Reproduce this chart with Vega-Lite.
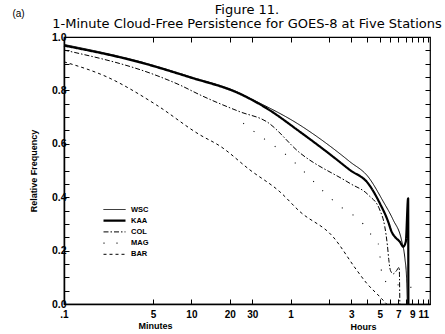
{
  "$schema": "https://vega.github.io/schema/vega-lite/v6.json",
  "width": 366,
  "height": 267,
  "autosize": {"type": "none"},
  "padding": {"left": 64, "top": 37, "right": 15, "bottom": 30},
  "background": "white",
  "config": {
    "view": {"stroke": "black", "strokeWidth": 1.2},
    "font": "Liberation Sans",
    "axis": {"grid": false, "labelColor": "black", "titleColor": "black", "tickColor": "black", "domainColor": "black", "labelFlush": false, "labelOverlap": false}
  },
  "title": {
    "text": ["Figure 11.", "1-Minute Cloud-Free Persistence for GOES-8 at Five Stations"],
    "fontSize": 13,
    "fontWeight": "normal",
    "font": "DejaVu Sans",
    "anchor": "middle",
    "frame": "group",
    "offset": -22.5,
    "lineHeight": 13.5,
    "color": "black"
  },
  "data": {
    "values": [
      {"station": "WSC", "minutes": 1, "freq": 0.972},
      {"station": "WSC", "minutes": 3.95, "freq": 0.908},
      {"station": "WSC", "minutes": 9.73, "freq": 0.852},
      {"station": "WSC", "minutes": 24.0, "freq": 0.79},
      {"station": "WSC", "minutes": 28.8, "freq": 0.771},
      {"station": "WSC", "minutes": 71.0, "freq": 0.67},
      {"station": "WSC", "minutes": 129, "freq": 0.583},
      {"station": "WSC", "minutes": 175, "freq": 0.533},
      {"station": "WSC", "minutes": 245, "freq": 0.475},
      {"station": "WSC", "minutes": 319, "freq": 0.385},
      {"station": "WSC", "minutes": 383, "freq": 0.315},
      {"station": "WSC", "minutes": 445, "freq": 0.24},
      {"station": "WSC", "minutes": 473, "freq": 0.172},
      {"station": "WSC", "minutes": 488, "freq": 0.097},
      {"station": "WSC", "minutes": 495, "freq": 0.0},
      {"station": "KAA", "minutes": 1, "freq": 0.968},
      {"station": "KAA", "minutes": 3.95, "freq": 0.905},
      {"station": "KAA", "minutes": 9.73, "freq": 0.849},
      {"station": "KAA", "minutes": 24.0, "freq": 0.787},
      {"station": "KAA", "minutes": 38.9, "freq": 0.733},
      {"station": "KAA", "minutes": 71.0, "freq": 0.645},
      {"station": "KAA", "minutes": 129, "freq": 0.552},
      {"station": "KAA", "minutes": 175, "freq": 0.502},
      {"station": "KAA", "minutes": 245, "freq": 0.45},
      {"station": "KAA", "minutes": 301, "freq": 0.377},
      {"station": "KAA", "minutes": 350, "freq": 0.308},
      {"station": "KAA", "minutes": 372, "freq": 0.271},
      {"station": "KAA", "minutes": 394, "freq": 0.252},
      {"station": "KAA", "minutes": 432, "freq": 0.233},
      {"station": "KAA", "minutes": 459, "freq": 0.215},
      {"station": "KAA", "minutes": 481, "freq": 0.233},
      {"station": "KAA", "minutes": 502, "freq": 0.396},
      {"station": "KAA", "minutes": 504, "freq": 0.0},
      {"station": "COL", "minutes": 1, "freq": 0.951},
      {"station": "COL", "minutes": 5.66, "freq": 0.851},
      {"station": "COL", "minutes": 8.12, "freq": 0.82},
      {"station": "COL", "minutes": 11.7, "freq": 0.783},
      {"station": "COL", "minutes": 24.0, "freq": 0.72},
      {"station": "COL", "minutes": 38.9, "freq": 0.683},
      {"station": "COL", "minutes": 71.0, "freq": 0.566},
      {"station": "COL", "minutes": 175, "freq": 0.452},
      {"station": "COL", "minutes": 245, "freq": 0.408},
      {"station": "COL", "minutes": 301, "freq": 0.352},
      {"station": "COL", "minutes": 329, "freq": 0.29},
      {"station": "COL", "minutes": 345, "freq": 0.22},
      {"station": "COL", "minutes": 355, "freq": 0.16},
      {"station": "COL", "minutes": 365, "freq": 0.125},
      {"station": "COL", "minutes": 383, "freq": 0.113},
      {"station": "COL", "minutes": 407, "freq": 0.125},
      {"station": "COL", "minutes": 427, "freq": 0.138},
      {"station": "COL", "minutes": 432, "freq": 0.0},
      {"station": "MAG", "minutes": 25.5, "freq": 0.677},
      {"station": "MAG", "minutes": 32.5, "freq": 0.639},
      {"station": "MAG", "minutes": 40.0, "freq": 0.608},
      {"station": "MAG", "minutes": 49.5, "freq": 0.577},
      {"station": "MAG", "minutes": 142, "freq": 0.371},
      {"station": "MAG", "minutes": 222, "freq": 0.3},
      {"station": "MAG", "minutes": 259, "freq": 0.258},
      {"station": "MAG", "minutes": 292, "freq": 0.227},
      {"station": "MAG", "minutes": 319, "freq": 0.09},
      {"station": "MAG", "minutes": 394, "freq": 0.075},
      {"station": "MAG", "minutes": 534, "freq": 0.062},
      {"station": "BAR", "minutes": 1, "freq": 0.907},
      {"station": "BAR", "minutes": 2.16, "freq": 0.851},
      {"station": "BAR", "minutes": 5.33, "freq": 0.745},
      {"station": "BAR", "minutes": 11.7, "freq": 0.633},
      {"station": "BAR", "minutes": 16.7, "freq": 0.592},
      {"station": "BAR", "minutes": 28.8, "freq": 0.502},
      {"station": "BAR", "minutes": 49.5, "freq": 0.42},
      {"station": "BAR", "minutes": 71.0, "freq": 0.346},
      {"station": "BAR", "minutes": 129, "freq": 0.252},
      {"station": "BAR", "minutes": 198, "freq": 0.127},
      {"station": "BAR", "minutes": 237, "freq": 0.078},
      {"station": "BAR", "minutes": 301, "freq": 0.027},
      {"station": "BAR", "minutes": 340, "freq": 0.0}
    ]
  },
  "layer": [
    {
      "mark": {"type": "line", "interpolate": "monotone", "color": "black"},
      "encoding": {
        "x": {
          "field": "minutes",
          "type": "quantitative",
          "scale": {"type": "log", "domain": [1, 745], "nice": false},
          "axis": {
            "orient": "bottom",
            "values": [1, 5, 10, 20, 30, 60, 120, 180, 240, 300, 360, 420, 480, 540, 600, 660, 720],
            "labelExpr": "datum.value == 1 ? '.1' : (datum.value < 60 ? '' + datum.value : (datum.value % 120 == 60 ? '' + (datum.value / 60) : ''))",
            "title": "Minutes",
            "titleX": 91,
            "titleY": 21,
            "titleAlign": "center",
            "titleBaseline": "middle",
            "titleFontSize": 9,
            "titleFontWeight": "bold",
            "tickSize": -5,
            "tickWidth": 1,
            "domainWidth": 1.5,
            "labelFontSize": 10,
            "labelFontWeight": "bold",
            "labelPadding": 10
          }
        },
        "y": {
          "field": "freq",
          "type": "quantitative",
          "scale": {"domain": [0, 1], "nice": false},
          "axis": {
            "orient": "left",
            "values": [0, 0.05, 0.1, 0.15, 0.2, 0.25, 0.3, 0.35, 0.4, 0.45, 0.5, 0.55, 0.6, 0.65, 0.7, 0.75, 0.8, 0.85, 0.9, 0.95, 1],
            "labelExpr": "round(datum.value * 100) % 20 == 0 ? format(datum.value, '.1f') : ''",
            "title": "Relative Frequency",
            "titleX": -31,
            "titleY": 133.5,
            "titleAngle": -90,
            "titleAlign": "center",
            "titleBaseline": "middle",
            "titleFontSize": 9,
            "titleFontWeight": "bold",
            "tickSize": -5,
            "tickWidth": 1,
            "domainWidth": 1.5,
            "labelFontSize": 10.5,
            "labelFontWeight": "bold",
            "labelPadding": 3
          }
        },
        "strokeDash": {
          "field": "station",
          "type": "nominal",
          "scale": {"type": "ordinal", "domain": ["WSC", "KAA", "COL", "MAG", "BAR"], "range": [[1, 0], [1, 0], [5, 2, 1.5, 2], [1, 12], [3, 3]]},
          "legend": {"title": null, "orient": "none", "legendX": 38, "legendY": 168, "symbolType": "stroke", "symbolSize": 484, "clipHeight": 9, "rowPadding": 2.2, "padding": 0, "labelFont": "Liberation Sans", "labelFontSize": 7.5, "labelFontWeight": "bold", "labelColor": "black", "labelOffset": 4, "symbolStrokeColor": "black"}
        },
        "strokeWidth": {
          "field": "station",
          "type": "nominal",
          "scale": {"type": "ordinal", "domain": ["WSC", "KAA", "COL", "MAG", "BAR"], "range": [1, 2.2, 1, 1.1, 1]},
          "legend": {"title": null, "orient": "none", "legendX": 38, "legendY": 168, "symbolType": "stroke", "symbolSize": 484, "clipHeight": 9, "rowPadding": 2.2, "padding": 0, "labelFont": "Liberation Sans", "labelFontSize": 7.5, "labelFontWeight": "bold", "labelColor": "black", "labelOffset": 4, "symbolStrokeColor": "black"}
        }
      }
    },
    {
      "mark": {"type": "point", "opacity": 0},
      "encoding": {
        "x": {
          "field": "minutes",
          "type": "quantitative",
          "axis": {
            "orient": "top",
            "values": [1, 5, 10, 20, 30, 60, 120, 180, 240, 300, 360, 420, 480, 540, 600, 660, 720],
            "labels": false,
            "domain": false,
            "tickSize": -5,
            "tickWidth": 1,
            "title": "(a)",
            "titleX": -46,
            "titleY": -24,
            "titleAlign": "center",
            "titleBaseline": "middle",
            "titleFontSize": 10,
            "titleFontWeight": "normal"
          }
        },
        "y": {
          "field": "freq",
          "type": "quantitative",
          "axis": {
            "orient": "right",
            "values": [0, 0.05, 0.1, 0.15, 0.2, 0.25, 0.3, 0.35, 0.4, 0.45, 0.5, 0.55, 0.6, 0.65, 0.7, 0.75, 0.8, 0.85, 0.9, 0.95, 1],
            "labels": false,
            "domain": false,
            "tickSize": -5,
            "tickWidth": 1,
            "title": "Hours",
            "titleX": -67,
            "titleY": 289,
            "titleAngle": 0,
            "titleAlign": "center",
            "titleBaseline": "middle",
            "titleFontSize": 9,
            "titleFontWeight": "bold"
          }
        }
      }
    }
  ],
  "resolve": {"axis": {"x": "independent", "y": "independent"}}
}
